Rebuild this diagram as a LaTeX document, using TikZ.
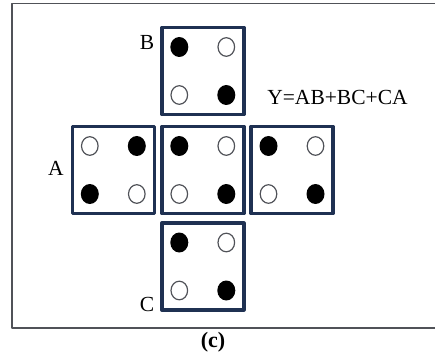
\documentclass[tikz,border=0pt]{standalone}
\usepackage{fontspec}
\setmainfont{Liberation Serif}
\usetikzlibrary{calc}
\definecolor{cellblue}{HTML}{1F3152}
\definecolor{rimgray}{HTML}{505258}
\tikzset{every picture/.style={line width=0.75pt}}
\tikzset{
  cell/.style={draw=cellblue, line width=3.4pt, minimum width=82pt, minimum height=87pt, inner sep=0pt},
  holl/.style={draw=rimgray, line width=1.2pt}
}

\begin{document}
\begin{tikzpicture}[x=1pt, y=-1pt, font=\fontsize{21.5}{25}\selectfont, line join=round, line cap=round]
  \useasboundingbox (0,0) rectangle (435,355);
  \path
  (202.8,71) coordinate (B)
  (113.3,170) coordinate (L)
  (202.8,170) coordinate (M)
  (292,170) coordinate (R)
  (202.8,266.5) coordinate (C);
  % frame
  \draw[rimgray, line width=1.4pt, line cap=butt] (436,3.5) -- (12,3.5) -- (12,328) -- (436,328);
  \foreach \x in {B,L,M,R,C}\node[cell] (box\x) at (\x) {};
  % dots, left cell mirrored
  \foreach \x/\s in {B/1,L/-1,M/1,R/1,C/1}{
    \fill ($(\x)+({-23.5*\s},-24)$) ellipse (9 and 10);
    \fill ($(\x)+({23.5*\s},24)$) ellipse (9 and 10);
    \draw[holl] ($(\x)+({23.5*\s},-24)$) ellipse (8.3 and 9.3);
    \draw[holl] ($(\x)+({-23.5*\s},24)$) ellipse (8.3 and 9.3);
  }
  \node (labB) at (147,42) {B};
  \node (labA) at (56,168) {A};
  \node (labC) at (147,304) {C};
  \node (eqn) at (337.5,97) {Y=AB+BC+CA};
  \node[font=\fontsize{22}{26}\selectfont\bfseries] (cap) at (213,342) {(c)};
\end{tikzpicture}
\end{document}
